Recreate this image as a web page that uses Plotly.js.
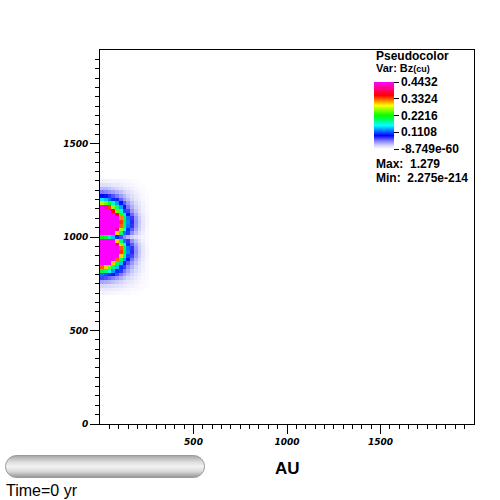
<!DOCTYPE html>
<html>
<head>
<meta charset="utf-8">
<script src="https://cdn.plot.ly/plotly-3.0.1.min.js"></script>
<style>html,body{margin:0;padding:0;background:#fff;}#chart{width:500px;height:500px;}</style>
</head>
<body>
<div id="chart"></div>
<script>
// Cell centres (AU)
const xCenters = [10,30,50,70,90,110,130,150,170,190,210,230,250];
const yCenters = [700,720,740,760,780,800,820,840,860,880,900,920,940,960,980,1000,1020,1040,1060,1080,1100,1120,1140,1160,1180,1200,1220,1240,1260,1280,1300];
const M = 0.6; // above colour-scale max (shown as magenta)
// Bz values, one row per y centre (bottom to top)
const bzRows = [
  [0.006,0.006,0.005,0.005,0.004,0.003,0.003,0.002,0.001,0.001,0,0,0],
  [0.012,0.012,0.011,0.010,0.009,0.008,0.006,0.005,0.004,0.003,0.002,0.001,0],
  [0.022,0.021,0.020,0.018,0.016,0.014,0.011,0.009,0.007,0.005,0.003,0.002,0.001],
  [0.040,0.038,0.035,0.031,0.027,0.023,0.018,0.014,0.011,0.008,0.005,0.003,0.001],
  [0.070,0.066,0.060,0.053,0.045,0.037,0.029,0.022,0.016,0.011,0.007,0.004,0.002],
  [0.120,0.110,0.100,0.085,0.070,0.055,0.042,0.031,0.022,0.015,0.009,0.005,0.002],
  [0.210,0.190,0.160,0.130,0.100,0.075,0.056,0.040,0.028,0.019,0.012,0.006,0.002],
  [0.330,0.300,0.250,0.190,0.140,0.100,0.072,0.050,0.035,0.023,0.014,0.007,0.003],
  [M,M,M,0.300,0.200,0.140,0.095,0.065,0.044,0.029,0.018,0.009,0.003],
  [M,M,M,M,0.330,0.200,0.130,0.085,0.056,0.036,0.022,0.011,0.004],
  [M,M,M,M,M,0.300,0.180,0.110,0.070,0.044,0.026,0.013,0.005],
  [M,M,M,M,M,0.340,0.210,0.125,0.078,0.048,0.028,0.014,0.005],
  [M,M,M,M,M,0.330,0.200,0.120,0.075,0.046,0.027,0.014,0.005],
  [M,M,M,M,0.400,0.260,0.160,0.100,0.063,0.040,0.024,0.012,0.004],
  [M,M,M,M,0.300,0.190,0.120,0.075,0.048,0.030,0.018,0.009,0.003],
  [0.220,0.210,0.180,0.140,0.100,0.070,0.050,0.035,0.024,0.016,0.010,0.005,0.002],
  [M,M,M,M,0.300,0.190,0.120,0.075,0.048,0.030,0.018,0.009,0.003],
  [M,M,M,M,0.400,0.260,0.160,0.100,0.063,0.040,0.024,0.012,0.004],
  [M,M,M,M,M,0.330,0.200,0.120,0.075,0.046,0.027,0.014,0.005],
  [M,M,M,M,M,0.340,0.210,0.125,0.078,0.048,0.028,0.014,0.005],
  [M,M,M,M,M,0.320,0.200,0.120,0.074,0.046,0.027,0.013,0.005],
  [M,M,M,M,0.360,0.230,0.150,0.095,0.060,0.038,0.022,0.011,0.004],
  [M,M,M,0.360,0.250,0.170,0.110,0.070,0.046,0.029,0.018,0.009,0.003],
  [M,0.420,0.340,0.260,0.190,0.130,0.085,0.056,0.037,0.024,0.015,0.008,0.003],
  [0.270,0.250,0.210,0.170,0.130,0.092,0.064,0.044,0.030,0.020,0.012,0.006,0.002],
  [0.150,0.140,0.120,0.100,0.080,0.060,0.044,0.031,0.022,0.014,0.009,0.005,0.002],
  [0.090,0.085,0.076,0.066,0.055,0.043,0.033,0.024,0.017,0.011,0.007,0.004,0.001],
  [0.055,0.052,0.047,0.042,0.036,0.030,0.023,0.017,0.012,0.008,0.005,0.003,0.001],
  [0.033,0.032,0.029,0.026,0.022,0.018,0.014,0.011,0.008,0.005,0.003,0.002,0],
  [0.018,0.017,0.016,0.014,0.012,0.010,0.008,0.006,0.005,0.003,0.002,0.001,0],
  [0.008,0.008,0.007,0.006,0.006,0.005,0.004,0.003,0.002,0.001,0.001,0,0]
];
const cbTickVals = [0, 0.1108, 0.2216, 0.3324, 0.4432];
const cbTickText = ['-8.749e-60', '0.1108', '0.2216', '0.3324', '0.4432'];
const xTickVals = [500, 1000, 1500];
const xTickText = ['500', '1000', '1500'];
const yTickVals = [0, 500, 1000, 1500];
const yTickText = ['0', '500', '1000', '1500'];
const zMin = 0, zMax = 0.4432;

function minorTicks(majors) {
  const out = [];
  for (let v = 50; v < 2000; v += 50) if (majors.indexOf(v) < 0 && v % 500 !== 0) out.push(v);
  return out;
}
const PX = p => (p - 100) / 374;
const PY = p => (424 - p) / 374;

const colorscale = [
  [0.00, 'rgb(255,255,255)'],
  [0.05, 'rgb(215,215,250)'],
  [0.12, 'rgb(130,130,255)'],
  [0.20, 'rgb(0,0,255)'],
  [0.35, 'rgb(0,255,255)'],
  [0.50, 'rgb(0,255,0)'],
  [0.65, 'rgb(255,255,0)'],
  [0.80, 'rgb(255,0,0)'],
  [1.00, 'rgb(255,0,255)']
];

const tickFont = {family: 'DejaVu Sans', size: 9, color: '#000', weight: 'bold', style: 'italic'};
const legFont = {family: 'Liberation Sans', size: 11, color: '#000', weight: 'bold'};
const legFont12 = {family: 'Liberation Sans', size: 12, color: '#000', weight: 'bold'};

const trace = {
  type: 'heatmap', x: xCenters, y: yCenters, z: bzRows,
  zmin: zMin, zmax: zMax, zsmooth: false, colorscale: colorscale,
  hoverinfo: 'skip', showscale: true,
  colorbar: {
    x: PX(374), xanchor: 'left', xpad: 0,
    y: PY(115.5), yanchor: 'middle', ypad: 0,
    len: 67, lenmode: 'pixels', thickness: 20, thicknessmode: 'pixels',
    outlinewidth: 0, ticks: 'outside', ticklen: 5, tickwidth: 1, tickcolor: '#000',
    tickmode: 'array', tickvals: cbTickVals, ticktext: cbTickText, tickfont: legFont12
  }
};

const svg = "<svg xmlns='http://www.w3.org/2000/svg' width='200' height='23'><defs><linearGradient id='g' x1='0' y1='0' x2='0' y2='1'><stop offset='0' stop-color='#a4a4a4'/><stop offset='0.3' stop-color='#dedede'/><stop offset='0.5' stop-color='#f3f3f3'/><stop offset='0.72' stop-color='#dadada'/><stop offset='1' stop-color='#959595'/></linearGradient></defs><rect x='0.5' y='0.5' width='199' height='22' rx='11' ry='11' fill='url(#g)' stroke='#9a9a9a'/></svg>";

const layout = {
  width: 500, height: 500,
  margin: {l: 100, r: 26, t: 50, b: 76, pad: 0},
  paper_bgcolor: '#fff', plot_bgcolor: '#fff',
  showlegend: false,
  xaxis: {
    range: [0, 2000], showgrid: false, zeroline: false,
    showline: true, linecolor: '#000', linewidth: 1, mirror: true,
    ticks: 'outside', ticklen: 9, tickwidth: 1, tickcolor: '#000',
    tickmode: 'array', tickvals: xTickVals, ticktext: xTickText, tickfont: tickFont,
    minor: {tickmode: 'array', tickvals: minorTicks(xTickVals), ticks: 'outside', ticklen: 4, tickwidth: 1, tickcolor: '#000', showgrid: false}
  },
  yaxis: {
    range: [0, 2000], showgrid: false, zeroline: false,
    showline: true, linecolor: '#000', linewidth: 1, mirror: true,
    ticks: 'outside', ticklen: 9, tickwidth: 1, tickcolor: '#000',
    tickmode: 'array', tickvals: yTickVals, ticktext: yTickText, tickfont: tickFont,
    minor: {tickmode: 'array', tickvals: minorTicks(yTickVals), ticks: 'outside', ticklen: 4, tickwidth: 1, tickcolor: '#000', showgrid: false}
  },
  images: [{
    source: 'data:image/svg+xml;charset=utf-8,' + encodeURIComponent(svg),
    xref: 'paper', yref: 'paper', x: PX(5), y: PY(455), sizex: 200 / 374, sizey: 23 / 374,
    xanchor: 'left', yanchor: 'top', sizing: 'stretch', layer: 'above'
  }],
  annotations: [
    {text: 'Pseudocolor', x: PX(374), y: PY(56), xref: 'paper', yref: 'paper', xanchor: 'left', yanchor: 'middle', showarrow: false, font: legFont12},
    {text: "Var: Bz<span style='font-size:9px'>(cu)</span>", x: PX(374), y: PY(68.5), xref: 'paper', yref: 'paper', xanchor: 'left', yanchor: 'middle', showarrow: false, font: legFont},
    {text: 'Max:  1.279', x: PX(374), y: PY(164), xref: 'paper', yref: 'paper', xanchor: 'left', yanchor: 'middle', showarrow: false, font: legFont12},
    {text: 'Min:  2.275e-214', x: PX(374), y: PY(178), xref: 'paper', yref: 'paper', xanchor: 'left', yanchor: 'middle', showarrow: false, font: legFont12},
    {text: 'AU', x: 0.5, y: PY(468), xref: 'paper', yref: 'paper', xanchor: 'center', yanchor: 'middle', showarrow: false, font: {family: 'Liberation Sans', size: 17, color: '#000', weight: 'bold'}},
    {text: 'Time=0 yr', x: PX(4), y: PY(490), xref: 'paper', yref: 'paper', xanchor: 'left', yanchor: 'middle', showarrow: false, font: {family: 'Liberation Sans', size: 16, color: '#000'}}
  ]
};

Plotly.newPlot('chart', [trace], layout, {staticPlot: true, displayModeBar: false});
</script>
</body>
</html>
